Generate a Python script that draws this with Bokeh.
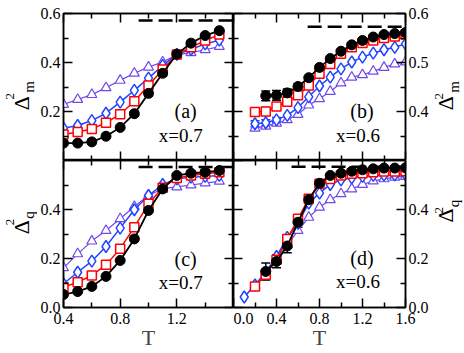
import numpy as np
from bokeh.plotting import figure
from bokeh.models import (Range1d, LinearAxis, FixedTicker, PrintfTickFormatter, Label,
                          ColumnDataSource, Whisker, TeeHead)
from bokeh.core.properties import value
from bokeh.layouts import column, row
from bokeh.embed import file_html
from bokeh.resources import INLINE

FONT = "Liberation Serif"

# ---------------- data ----------------
# panel (a): Delta^2_m, x=0.7
T_a = [0.4, 0.5, 0.6, 0.7, 0.8, 0.9, 1.0, 1.1, 1.2, 1.3, 1.4, 1.5]
a_black = [0.071, 0.071, 0.076, 0.099, 0.135, 0.191, 0.274, 0.356, 0.434, 0.479, 0.510, 0.530]
a_red = [0.106, 0.116, 0.129, 0.154, 0.189, 0.242, 0.306, 0.371, 0.433, 0.462, 0.490, 0.514]
a_blue = [0.132, 0.143, 0.163, 0.193, 0.238, 0.286, 0.336, 0.388, 0.433, 0.453, 0.476, 0.491]
a_purple = [0.229, 0.249, 0.269, 0.297, 0.327, 0.356, 0.381, 0.402, 0.431, 0.440, 0.452, 0.465]
a_black_err = [0, 0, 0, 0, 0, 0.010, 0.012, 0.012, 0.010, 0, 0, 0]

# panel (b): Delta^2_m, x=0.6
T_b_black = [0.3, 0.4, 0.5, 0.6, 0.7, 0.8, 0.9, 1.0, 1.1, 1.2, 1.3, 1.4, 1.5, 1.6]
T_b = [0.2, 0.3, 0.4, 0.5, 0.6, 0.7, 0.8, 0.9, 1.0, 1.1, 1.2, 1.3, 1.4, 1.5, 1.6]
b_black = [0.432, 0.433, 0.438, 0.451, 0.469, 0.490, 0.508, 0.523, 0.536, 0.545, 0.552, 0.557, 0.559, 0.561]
b_red = [0.399, 0.400, 0.410, 0.420, 0.433, 0.453, 0.477, 0.497, 0.518, 0.531, 0.540, 0.545, 0.550, 0.553, 0.557]
b_blue = [0.375, 0.377, 0.383, 0.392, 0.408, 0.430, 0.452, 0.470, 0.487, 0.501, 0.511, 0.519, 0.526, 0.531, 0.538]
b_purple = [0.366, 0.370, 0.376, 0.383, 0.394, 0.413, 0.426, 0.441, 0.458, 0.470, 0.475, 0.482, 0.490, 0.497, 0.501]
b_black_err = [0.010, 0.010, 0.008, 0.006, 0, 0, 0, 0, 0, 0, 0, 0, 0, 0]
b_red_err = [0.008, 0.008, 0, 0, 0, 0, 0, 0, 0, 0, 0, 0, 0, 0, 0]
b_blue_err = [0.006, 0.006, 0.005, 0, 0, 0, 0, 0, 0, 0, 0, 0, 0, 0, 0]

# panel (c): Delta^2_q, x=0.7
T_c = [0.4, 0.5, 0.6, 0.7, 0.8, 0.9, 1.0, 1.1, 1.2, 1.3, 1.4, 1.5]
c_black = [0.053, 0.065, 0.086, 0.127, 0.192, 0.280, 0.396, 0.484, 0.539, 0.548, 0.552, 0.559]
c_red = [0.083, 0.103, 0.131, 0.174, 0.240, 0.328, 0.423, 0.489, 0.529, 0.539, 0.546, 0.552]
c_blue = [0.097, 0.144, 0.189, 0.249, 0.324, 0.399, 0.457, 0.502, 0.525, 0.532, 0.535, 0.539]
c_purple = [0.162, 0.219, 0.271, 0.314, 0.362, 0.412, 0.457, 0.485, 0.492, 0.500, 0.508, 0.515]

# panel (d): Delta^2_q, x=0.6
T_d_black = [0.3, 0.4, 0.5, 0.6, 0.7, 0.8, 0.9, 1.0, 1.1, 1.2, 1.3, 1.4, 1.5, 1.6]
T_d = [0.2, 0.3, 0.4, 0.5, 0.6, 0.7, 0.8, 0.9, 1.0, 1.1, 1.2, 1.3, 1.4, 1.5, 1.6]
T_d_blue = [0.1, 0.2, 0.3, 0.4, 0.5, 0.6, 0.7, 0.8, 0.9, 1.0, 1.1, 1.2, 1.3, 1.4, 1.5, 1.6]
d_black = [0.147, 0.188, 0.251, 0.348, 0.440, 0.507, 0.539, 0.548, 0.556, 0.562, 0.566, 0.569, 0.569, 0.570]
d_red = [0.086, 0.134, 0.195, 0.280, 0.362, 0.444, 0.505, 0.525, 0.539, 0.546, 0.548, 0.552, 0.555, 0.555, 0.556]
d_blue = [0.043, 0.092, 0.145, 0.208, 0.286, 0.344, 0.426, 0.467, 0.502, 0.521, 0.529, 0.535, 0.539, 0.540, 0.541, 0.543]
d_purple = [0.090, 0.140, 0.200, 0.255, 0.314, 0.368, 0.409, 0.440, 0.464, 0.484, 0.502, 0.516, 0.525, 0.532, 0.535]
d_black_err = [0.035, 0.026, 0.028, 0.020, 0.015, 0.008, 0, 0, 0, 0, 0, 0, 0, 0]
d_red_err = [0, 0.020, 0, 0.015, 0, 0, 0, 0, 0, 0, 0, 0, 0, 0, 0]

# saturation (dashed) lines: start T, end T, level
dash_start = [0.93, 0.69, 0.93, 0.54]
dash_end = [1.6, 1.6, 1.6, 1.6]
dash_level = [0.571, 0.573, 0.573, 0.574]

panel_tags = ["(a)", "(b)", "(c)", "(d)"]
panel_x = ["x=0.7", "x=0.6", "x=0.7", "x=0.6"]
ylab_sub = ["m", "m", "q", "q"]

BLACK = "#000000"
RED = "#ff0000"
BLUE = "#1f45ff"
PURPLE = "#7048ea"

FRAME_H = 147
TOP_PAD = 13
BOT_PAD = 46


def add_axis(p, side, major, minor, show_labels, axis_label=None):
    standoff = 5 if side == "below" else 3
    ax = LinearAxis(ticker=FixedTicker(ticks=major, minor_ticks=minor),
                    formatter=PrintfTickFormatter(format="%.1f"),
                    major_tick_in=9, major_tick_out=0,
                    minor_tick_in=5, minor_tick_out=0,
                    axis_line_width=1.5, axis_line_color="black",
                    major_tick_line_width=1.5, minor_tick_line_width=1.5,
                    major_label_text_font=FONT,
                    major_label_text_color="black",
                    major_label_text_font_size="16px" if show_labels else "0px",
                    major_label_standoff=standoff if show_labels else 0)
    if not show_labels:
        ax.major_label_overrides = {t: "" for t in major}
    if axis_label:
        ax.axis_label = axis_label
        ax.axis_label_text_font = FONT
        ax.axis_label_text_font_style = "normal"
        ax.axis_label_text_font_size = "22px"
        ax.axis_label_standoff = -2
    p.add_layout(ax, side)
    return ax


def make_fig(w, h, xr, yr, bl, br, bt, bb):
    p = figure(width=w, height=h,
               x_range=Range1d(*xr), y_range=Range1d(*yr),
               x_axis_type=None, y_axis_type=None,
               output_backend="svg", toolbar_location=None, tools="")
    p.min_border_left = bl
    p.min_border_right = br
    p.min_border_top = bt
    p.min_border_bottom = bb
    p.outline_line_color = "black"
    p.outline_line_width = 1.5
    p.background_fill_color = "white"
    p.border_fill_color = "white"
    return p


def strip_fig(w, h):
    s = figure(width=w, height=h, x_range=Range1d(0, w), y_range=Range1d(h, 0),
               x_axis_type=None, y_axis_type=None, min_border=0,
               output_backend="svg", toolbar_location=None, tools="")
    s.outline_line_color = None
    s.background_fill_color = "white"
    s.border_fill_color = "white"
    return s


def ylabel(s, xs, cy, sub):
    # Delta with superscript 2 and a subscript, reading bottom to top
    s.text(x=[xs[1]], y=[cy], text=["\u0394"], angle=np.pi / 2,
           text_font=value(FONT), text_font_size=value("22px"),
           text_align="center", text_baseline="middle", text_color="black")
    s.text(x=[xs[0]], y=[cy - 7.5], text=["2"], angle=np.pi / 2,
           text_font=value(FONT), text_font_size=value("13px"),
           text_align="center", text_baseline="middle", text_color="black")
    s.text(x=[xs[2]], y=[cy - 17.5], text=[sub], angle=np.pi / 2,
           text_font=value(FONT), text_font_size=value("15px"),
           text_align="center", text_baseline="middle", text_color="black")


def series(p, x, y, color, marker, size, lw, mlw, fill):
    p.line(x, y, line_color=color, line_width=lw)
    p.scatter(x, y, marker=marker, size=size, line_color=color, line_width=mlw,
              fill_color=fill)


def errs(p, x, y, e, color):
    xs = [xi for xi, ei in zip(x, e) if ei > 0]
    up = [yi + ei for yi, ei in zip(y, e) if ei > 0]
    lo = [yi - ei for yi, ei in zip(y, e) if ei > 0]
    src = ColumnDataSource(dict(x=xs, upper=up, lower=lo))
    w = Whisker(source=src, base="x", upper="upper", lower="lower", dimension="height",
                line_color=color, line_width=1.5,
                upper_head=TeeHead(size=9, line_color=color, line_width=1.5),
                lower_head=TeeHead(size=9, line_color=color, line_width=1.5))
    p.add_layout(w)


def txt(p, x, y, text, size):
    p.add_layout(Label(x=x, y=y, text=text, text_font=FONT, text_font_size=size,
                       text_align="center", text_baseline="middle",
                       text_color="black"))


# ---------------- figures ----------------
pa = make_fig(196, TOP_PAD + FRAME_H, (0.4, 1.6), (0.0, 0.6), 23, 0, TOP_PAD, 0)
pb = make_fig(198, TOP_PAD + FRAME_H, (0.0, 1.6), (0.3, 0.6), 0, 24, TOP_PAD, 0)
pc = make_fig(196, FRAME_H + BOT_PAD, (0.4, 1.6), (0.0, 0.6), 23, 0, 0, BOT_PAD)
pd = make_fig(198, FRAME_H + BOT_PAD, (0.0, 1.6), (0.0, 0.6), 0, 24, 0, BOT_PAD)

xa_major, xa_minor = [0.4, 0.8, 1.2, 1.6], [0.6, 1.0, 1.4]
xb_major, xb_minor = [0.0, 0.4, 0.8, 1.2, 1.6], [0.2, 0.6, 1.0, 1.4]
yq_major, yq_minor = [0.0, 0.2, 0.4, 0.6], [0.1, 0.3, 0.5]
yb_major, yb_minor = [0.3, 0.4, 0.5, 0.6], [0.35, 0.45, 0.55]

# (a)
add_axis(pa, "left", [0.2, 0.4, 0.6], yq_minor, True)
add_axis(pa, "right", yq_major, yq_minor, False)
add_axis(pa, "above", xa_major, xa_minor, False)
add_axis(pa, "below", xa_major, xa_minor, False)
# (b)
add_axis(pb, "left", yb_major, yb_minor, False)
add_axis(pb, "right", [0.4, 0.5, 0.6], yb_minor, True)
add_axis(pb, "above", xb_major, xb_minor, False)
add_axis(pb, "below", xb_major, xb_minor, False)
# (c)
add_axis(pc, "left", [0.0, 0.2, 0.4], yq_minor, True)
add_axis(pc, "right", yq_major, yq_minor, False)
add_axis(pc, "above", xa_major, xa_minor, False)
add_axis(pc, "below", [0.4, 0.8, 1.2], xa_minor, True, "T")
# (d)
add_axis(pd, "left", yq_major, yq_minor, False)
add_axis(pd, "right", [0.0, 0.2, 0.4], yq_minor, True)
add_axis(pd, "above", xb_major, xb_minor, False)
add_axis(pd, "below", xb_major, xb_minor, True, "T")

figs = [pa, pb, pc, pd]
for i, p in enumerate(figs):
    p.line([dash_start[i], dash_end[i]], [dash_level[i], dash_level[i]],
           line_color="black", line_width=2.5, line_dash="14 6")

# (a) series
series(pa, T_a, a_purple, PURPLE, "triangle", 10, 1.2, 1.2, "white")
series(pa, T_a, a_blue, BLUE, "diamond", 12, 1.5, 1.5, "white")
series(pa, T_a, a_red, RED, "square", 9, 1.5, 1.5, "white")
errs(pa, T_a, a_black, a_black_err, BLACK)
series(pa, T_a, a_black, BLACK, "circle", 10, 1.8, 1.0, BLACK)

# (b)
series(pb, T_b, b_purple, PURPLE, "triangle", 10, 1.2, 1.2, "white")
errs(pb, T_b, b_blue, b_blue_err, BLUE)
series(pb, T_b, b_blue, BLUE, "diamond", 12, 1.5, 1.5, "white")
errs(pb, T_b, b_red, b_red_err, RED)
series(pb, T_b, b_red, RED, "square", 9, 1.5, 1.5, "white")
errs(pb, T_b_black, b_black, b_black_err, BLACK)
series(pb, T_b_black, b_black, BLACK, "circle", 10, 1.8, 1.0, BLACK)

# (c)
series(pc, T_c, c_purple, PURPLE, "triangle", 10, 1.2, 1.2, "white")
series(pc, T_c, c_blue, BLUE, "diamond", 12, 1.5, 1.5, "white")
series(pc, T_c, c_red, RED, "square", 9, 1.5, 1.5, "white")
series(pc, T_c, c_black, BLACK, "circle", 10, 1.8, 1.0, BLACK)

# (d)
series(pd, T_d, d_purple, PURPLE, "triangle", 10, 1.2, 1.2, "white")
series(pd, T_d_blue, d_blue, BLUE, "diamond", 12, 1.5, 1.5, "white")
errs(pd, T_d, d_red, d_red_err, RED)
series(pd, T_d, d_red, RED, "square", 9, 1.5, 1.5, "white")
errs(pd, T_d_black, d_black, d_black_err, BLACK)
series(pd, T_d_black, d_black, BLACK, "circle", 10, 1.8, 1.0, BLACK)

# panel texts
txt(pa, 1.262, 0.204, panel_tags[0], "20px")
txt(pa, 1.228, 0.102, panel_x[0], "19px")
txt(pb, 1.195, 0.402, panel_tags[1], "20px")
txt(pb, 1.159, 0.351, panel_x[1], "19px")
txt(pc, 1.262, 0.200, panel_tags[2], "20px")
txt(pc, 1.228, 0.102, panel_x[2], "19px")
txt(pd, 1.195, 0.204, panel_tags[3], "20px")
txt(pd, 1.159, 0.106, panel_x[3], "19px")

# side strips carrying the y-axis titles
sL1 = strip_fig(37, TOP_PAD + FRAME_H)
sL2 = strip_fig(37, FRAME_H)
sR1 = strip_fig(33, TOP_PAD + FRAME_H)
sR2 = strip_fig(33, FRAME_H)
ylabel(sL1, [9.4, 20.5, 28.5], 97.5, ylab_sub[0])
ylabel(sR1, [7.4, 13.5, 22.8], 97.5, ylab_sub[1])
ylabel(sL2, [9.4, 20.5, 28.5], 97, ylab_sub[2])
ylabel(sR2, [7.4, 13.5, 22.8], 80, ylab_sub[3])

layout = column(row(sL1, pa, pb, sR1), row(sL2, pc, pd, sR2))

open("out.html", "w").write(file_html(layout, INLINE))
